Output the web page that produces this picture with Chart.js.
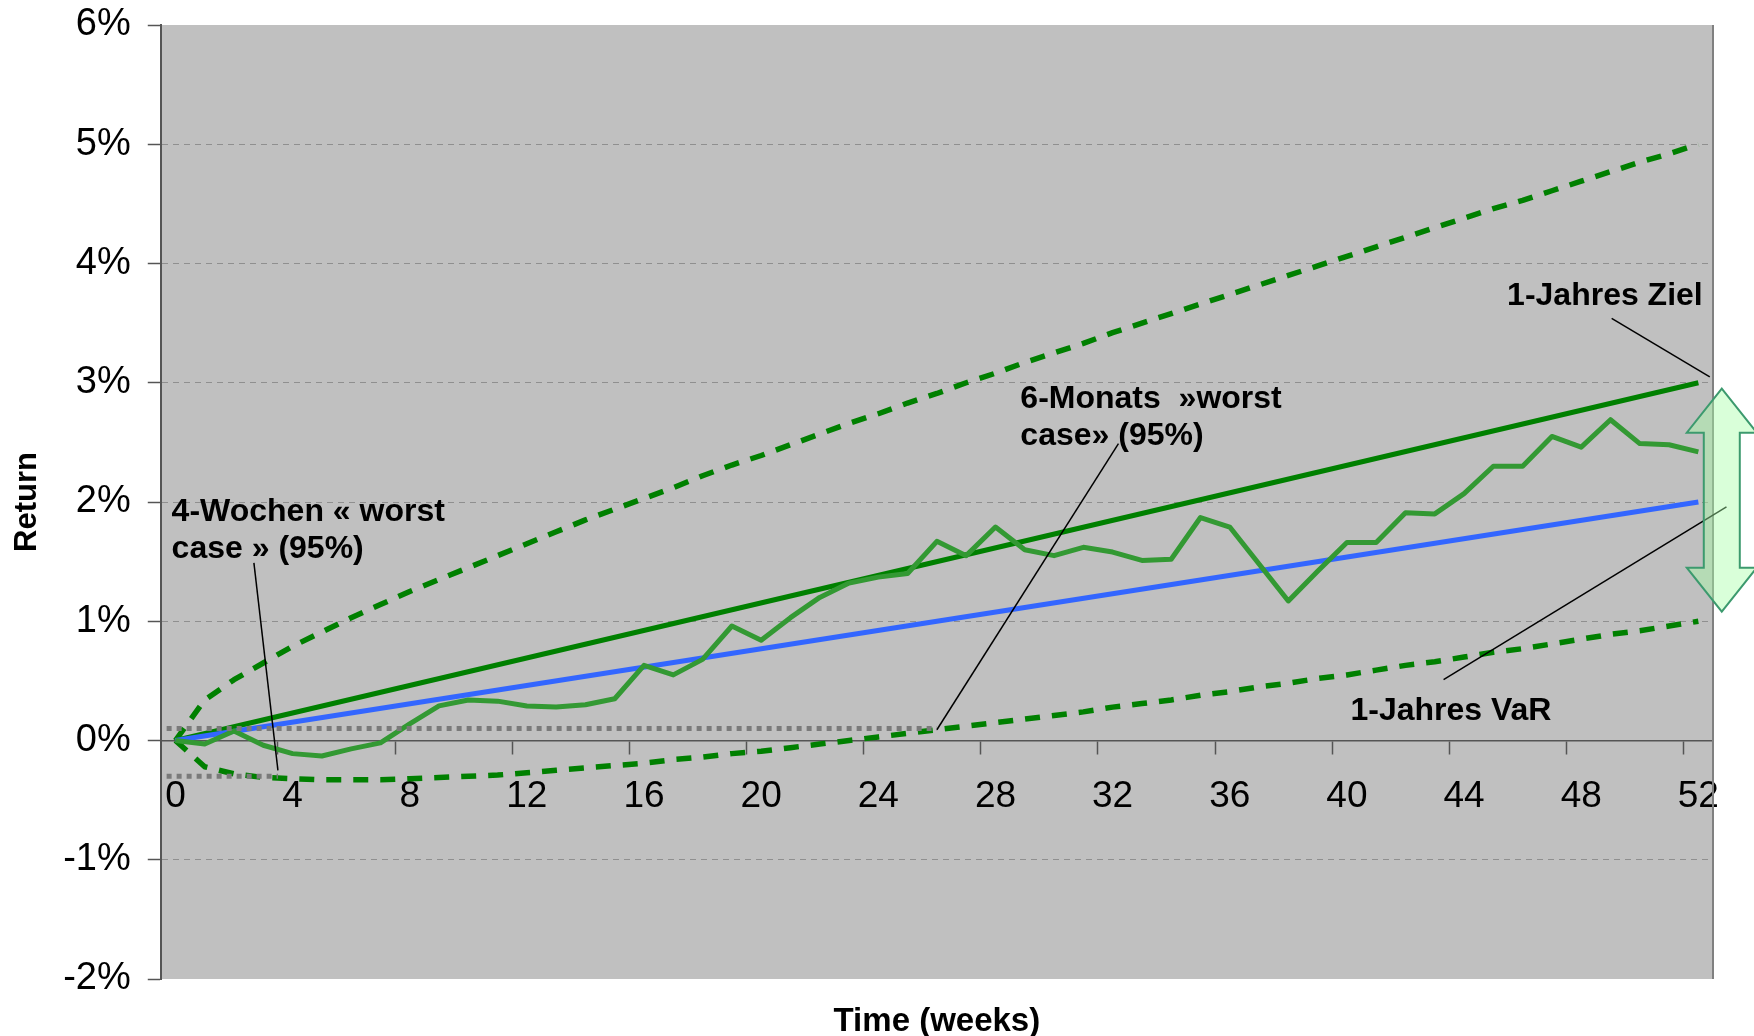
<!DOCTYPE html>
<html>
<head>
<meta charset="utf-8">
<script src="https://cdn.jsdelivr.net/npm/chart.js@4.4.1/dist/chart.umd.min.js"></script>
<style>
  html, body { margin: 0; padding: 0; background: #fff; }
  #wrap { width: 1754px; height: 1036px; }
</style>
</head>
<body>
<div id="wrap"><canvas id="chart"></canvas></div>
<script>
// weeks on the x axis
const weeks = [0, 1, 2, 3, 4, 5, 6, 7, 8, 9, 10, 11, 12, 13, 14, 15, 16, 17, 18, 19, 20,
  21, 22, 23, 24, 25, 26, 27, 28, 29, 30, 31, 32, 33, 34, 35, 36, 37, 38, 39, 40,
  41, 42, 43, 44, 45, 46, 47, 48, 49, 50, 51, 52];

// return in %
const actualReturn = [0, -0.03, 0.08, -0.04, -0.11, -0.13, -0.07, -0.02, 0.14, 0.29, 0.34,
  0.33, 0.29, 0.28, 0.30, 0.35, 0.63, 0.55, 0.68, 0.96, 0.84, 1.03, 1.20, 1.32, 1.37, 1.40,
  1.67, 1.55, 1.79, 1.60, 1.55, 1.62, 1.58, 1.51, 1.52, 1.87, 1.79, 1.48, 1.17, 1.42, 1.66,
  1.66, 1.91, 1.90, 2.07, 2.30, 2.30, 2.55, 2.46, 2.69, 2.49, 2.48, 2.42];
const upperBand = [0, 0.34, 0.51, 0.65, 0.79, 0.91, 1.03, 1.14, 1.25, 1.35, 1.45, 1.55, 1.65,
  1.75, 1.85, 1.94, 2.03, 2.12, 2.22, 2.31, 2.39, 2.48, 2.57, 2.66, 2.74, 2.83, 2.91, 3.00,
  3.08, 3.17, 3.25, 3.33, 3.42, 3.50, 3.58, 3.66, 3.74, 3.82, 3.90, 3.98, 4.06, 4.14, 4.22,
  4.30, 4.38, 4.46, 4.53, 4.61, 4.69, 4.77, 4.85, 4.92, 5.00];
const lowerBand = [0, -0.22, -0.28, -0.31, -0.32, -0.33, -0.33, -0.33, -0.32, -0.31, -0.30,
  -0.29, -0.27, -0.25, -0.23, -0.21, -0.19, -0.16, -0.14, -0.11, -0.09, -0.06, -0.03, 0.00,
  0.03, 0.06, 0.09, 0.12, 0.15, 0.18, 0.21, 0.24, 0.28, 0.31, 0.34, 0.38, 0.41, 0.45, 0.48,
  0.52, 0.55, 0.59, 0.63, 0.66, 0.70, 0.74, 0.77, 0.81, 0.85, 0.89, 0.92, 0.96, 1.00];

// straight lines: [week, return]
const targetLine = [{x: 0, y: 0}, {x: 52, y: 3}];
const benchmarkLine = [{x: 0, y: 0}, {x: 52, y: 2}];
const worst4Weeks = [{x: -0.3, y: -0.3}, {x: 3.5, y: -0.3}];
const worst6Months = [{x: -0.3, y: 0.1}, {x: 26, y: 0.1}];

// axis ticks
const labelWeeks = [0, 4, 8, 12, 16, 20, 24, 28, 32, 36, 40, 44, 48, 52];
const markWeeks = [3.5, 7.5, 11.5, 15.5, 19.5, 23.5, 27.5, 31.5, 35.5, 39.5, 43.5, 47.5, 51.5];
const yTicks = [-2, -1, 0, 1, 2, 3, 4, 5, 6];

// callouts (positions in week / % units)
const notes = [
  { lines: ['4-Wochen « worst', 'case » (95%)'], week: -0.13, ret: 1.84, align: 'left' },
  { lines: ['6-Monats  »worst', 'case» (95%)'], week: 28.85, ret: 2.79, align: 'left' },
  { lines: ['1-Jahres Ziel'], week: 52.15, ret: 3.65, align: 'right' },
  { lines: ['1-Jahres VaR'], week: 40.12, ret: 0.17, align: 'left' }
];
const leaders = [
  [2.68, 1.49, 3.5, -0.25],
  [32.2, 2.49, 26.0, 0.09],
  [49.04, 3.54, 52.39, 3.05],
  [43.3, 0.51, 52.96, 1.96]
];
const arrowSpan = { week: 52.8, from: 1.08, to: 2.95 };

const FONT = "'Liberation Sans', Arial, sans-serif";
Chart.defaults.font.family = FONT;

const extras = {
  id: 'extras',
  beforeDraw(chart) {
    const { ctx, chartArea: a } = chart;
    ctx.save();
    ctx.fillStyle = '#c0c0c0';
    ctx.fillRect(a.left, a.top, a.right - a.left, a.bottom - a.top);
    ctx.restore();
  },
  afterDraw(chart) {
    const { ctx, chartArea: a } = chart;
    const xs = chart.scales.x, ys = chart.scales.y;
    ctx.save();
    // right border of plot area
    ctx.strokeStyle = '#808080';
    ctx.lineWidth = 2;
    ctx.beginPath();
    ctx.moveTo(a.right, a.top);
    ctx.lineTo(a.right, a.bottom);
    ctx.stroke();

    // leader lines
    ctx.strokeStyle = '#000';
    ctx.lineWidth = 1.5;
    leaders.forEach(l => {
      ctx.beginPath();
      ctx.moveTo(xs.getPixelForValue(l[0]), ys.getPixelForValue(l[1]));
      ctx.lineTo(xs.getPixelForValue(l[2]), ys.getPixelForValue(l[3]));
      ctx.stroke();
    });

    // callout texts
    ctx.fillStyle = '#000';
    ctx.font = 'bold 32px ' + FONT;
    ctx.textBaseline = 'alphabetic';
    notes.forEach(n => {
      ctx.textAlign = n.align;
      const x = xs.getPixelForValue(n.week);
      const y = ys.getPixelForValue(n.ret);
      n.lines.forEach((t, i) => ctx.fillText(t, x, y + i * 37));
    });

    // double arrow
    const cx = xs.getPixelForValue(arrowSpan.week);
    const top = ys.getPixelForValue(arrowSpan.to);
    const bot = ys.getPixelForValue(arrowSpan.from);
    const hw = 35, sw = 18, hh = 44;
    ctx.beginPath();
    ctx.moveTo(cx, top);
    ctx.lineTo(cx + hw, top + hh);
    ctx.lineTo(cx + sw, top + hh);
    ctx.lineTo(cx + sw, bot - hh);
    ctx.lineTo(cx + hw, bot - hh);
    ctx.lineTo(cx, bot);
    ctx.lineTo(cx - hw, bot - hh);
    ctx.lineTo(cx - sw, bot - hh);
    ctx.lineTo(cx - sw, top + hh);
    ctx.lineTo(cx - hw, top + hh);
    ctx.closePath();
    ctx.fillStyle = 'rgba(166,255,166,0.43)';
    ctx.fill();
    ctx.strokeStyle = '#3c9a6e';
    ctx.lineWidth = 2;
    ctx.stroke();

    // x axis title
    ctx.fillStyle = '#000';
    ctx.font = 'bold 33px ' + FONT;
    ctx.textAlign = 'center';
    ctx.textBaseline = 'middle';
    ctx.fillText('Time (weeks)', (a.left + a.right) / 2, a.bottom + 43);
    ctx.restore();
  }
};

const line = (data, color, extra) => Object.assign({
  data: data,
  borderColor: color,
  borderWidth: 5,
  pointRadius: 0,
  tension: 0,
  fill: false,
  borderJoinStyle: 'round',
  borderCapStyle: 'butt'
}, extra || {});

new Chart(document.getElementById('chart'), {
  type: 'line',
  data: {
    labels: weeks,
    datasets: [
      line(worst4Weeks, '#7a7a7a', { borderDash: [5, 5], borderWidth: 5 }),
      line(worst6Months, '#7a7a7a', { borderDash: [5, 5], borderWidth: 5 }),
      line(actualReturn, '#339933'),
      line(benchmarkLine, '#3366ff'),
      line(targetLine, '#008000'),
      line(upperBand, '#008000', { borderDash: [15, 12], borderWidth: 5.5 }),
      line(lowerBand, '#008000', { borderDash: [15, 12], borderWidth: 5.5 })
    ]
  },
  options: {
    responsive: true,
    maintainAspectRatio: false,
    animation: false,
    layout: { padding: { left: 0, top: 25, right: 41, bottom: 57 } },
    plugins: { legend: { display: false }, tooltip: { enabled: false } },
    scales: {
      x: {
        type: 'linear',
        min: -0.5,
        max: 52.5,
        position: { y: 0 },
        afterBuildTicks: s => {
          s.ticks = labelWeeks.concat(markWeeks).sort((p, q) => p - q).map(v => ({ value: v }));
        },
        ticks: {
          autoSkip: false,
          maxRotation: 0,
          callback: v => labelWeeks.includes(v) ? String(v) : '',
          font: { size: 37 },
          color: '#000',
          padding: 21
        },
        grid: {
          drawOnChartArea: false,
          drawTicks: true,
          tickLength: 13,
          tickWidth: 1.5,
          color: 'rgba(0,0,0,0)',
          tickColor: c => (c.tick && c.tick.value % 1 !== 0) ? '#555' : 'rgba(0,0,0,0)'
        },
        border: { color: '#555', width: 1.5 }
      },
      y: {
        min: -2,
        max: 6,
        afterBuildTicks: s => { s.ticks = yTicks.map(v => ({ value: v })); },
        afterFit: s => { s.paddingTop = 0; s.paddingBottom = 0; },
        ticks: {
          callback: v => v + '%',
          font: { size: 38 },
          color: '#000',
          padding: 17
        },
        grid: {
          color: c => (c.tick && (c.tick.value === 6 || c.tick.value === -2)) ? 'rgba(0,0,0,0)' : '#8f8f8f',
          lineWidth: 1,
          tickLength: 13,
          tickColor: '#555',
          tickWidth: 1.5,
          tickBorderDash: []
        },
        border: { color: '#555', width: 2, dash: [6, 5] },
        title: {
          display: true,
          text: 'Return',
          font: { size: 31, weight: 'bold' },
          color: '#000',
          padding: { top: 9, bottom: 0 }
        }
      }
    }
  },
  plugins: [extras]
});
</script>
</body>
</html>
